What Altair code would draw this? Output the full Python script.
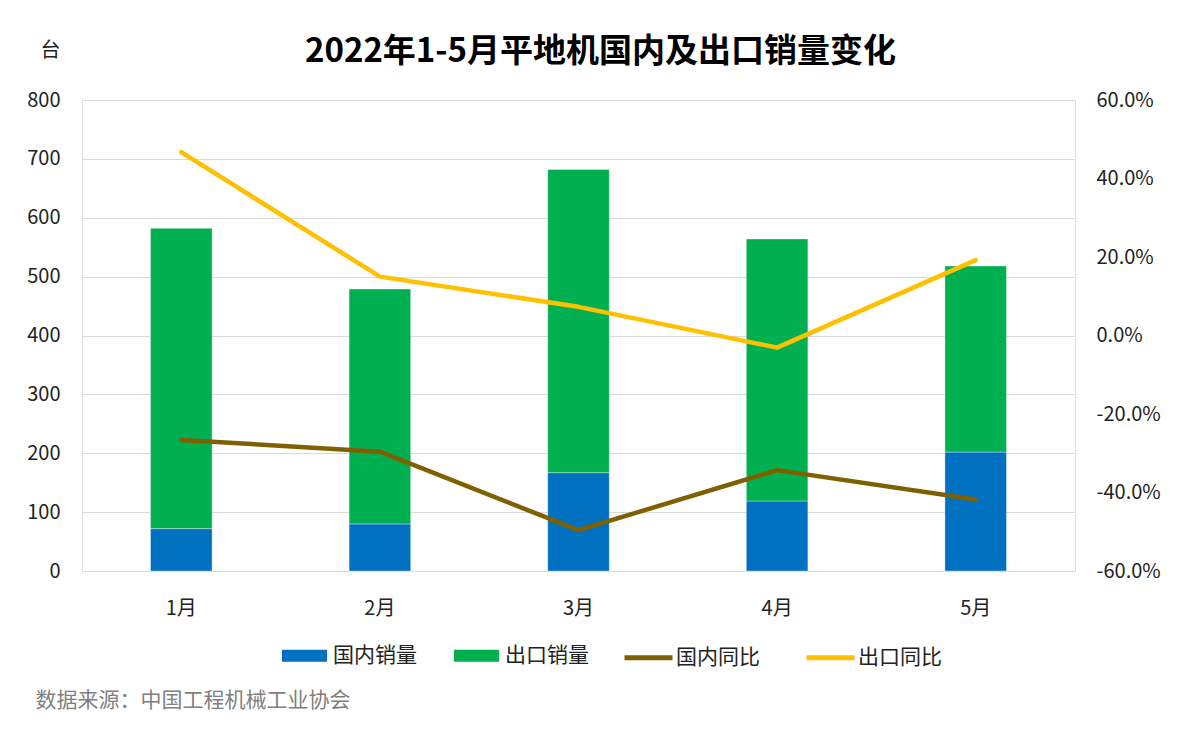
import altair as alt
import pandas as pd

months = ["1月", "2月", "3月", "4月", "5月"]
domestic_sales = [72, 80, 167, 119, 202]
export_sales = [510, 399, 515, 445, 316]
domestic_yoy = [-0.266, -0.296, -0.496, -0.343, -0.418]
export_yoy = [0.467, 0.150, 0.073, -0.031, 0.192]

bar_series = ["国内销量", "出口销量"]
line_series = ["国内同比", "出口同比"]
left_ticks = [0, 100, 200, 300, 400, 500, 600, 700, 800]
right_ticks = [-0.6, -0.4, -0.2, 0.0, 0.2, 0.4, 0.6]

FONT = "Noto Sans CJK SC"

rows = []
for i, m in enumerate(months):
    rows.append({"month": m, "series": bar_series[0], "value": domestic_sales[i], "ord": 0})
    rows.append({"month": m, "series": bar_series[1], "value": export_sales[i], "ord": 1})
df_bar = pd.DataFrame(rows)

lrows = []
for i, m in enumerate(months):
    lrows.append({"month": m, "series": line_series[0], "rate": domestic_yoy[i]})
    lrows.append({"month": m, "series": line_series[1], "rate": export_yoy[i]})
df_line = pd.DataFrame(lrows)

xscale = alt.Scale(domain=months, paddingInner=0.69, paddingOuter=0.345)

bars = alt.Chart(df_bar).mark_bar(stroke="#ffffff", strokeWidth=0.6, strokeOpacity=0.6).encode(
    x=alt.X("month:N", sort=months, scale=xscale,
            axis=alt.Axis(title="数据来源：中国工程机械工业协会", titleX=-47, titleY=129,
                          titleAlign="left", titleBaseline="middle", titleFontSize=21,
                          titleFontWeight="normal", titleColor="#7f7f7f", titleFont=FONT,
                          labelFontSize=20, labelPadding=27, labelAngle=0, labelColor="#222222",
                          labelFont=FONT, domain=False, ticks=False, grid=False)),
    y=alt.Y("value:Q", stack="zero", scale=alt.Scale(domain=[0, 800], nice=False),
            axis=alt.Axis(values=left_ticks, title="台", titleAngle=0, titleX=-32, titleY=-50,
                          titleAlign="center", titleBaseline="middle", titleFontSize=20,
                          titleFontWeight="normal", titleColor="#222222", titleFont=FONT,
                          labelFontSize=20, labelPadding=22, labelColor="#222222", labelFont=FONT,
                          domain=False, ticks=False, grid=True, gridColor="#D9D9D9", gridWidth=1)),
    color=alt.Color("series:N",
                    scale=alt.Scale(domain=bar_series, range=["#0070C0", "#00B050"]),
                    legend=alt.Legend(orient="none", legendX=200, legendY=533, direction="horizontal",
                                      title=None, symbolType="M-1,-0.27L1,-0.27L1,0.27L-1,0.27Z",
                                      symbolSize=2025, symbolStrokeWidth=0, symbolOpacity=1,
                                      labelFontSize=21, labelFont=FONT, labelColor="#222222",
                                      labelOffset=6, columnPadding=37, padding=0)),
    order=alt.Order("ord:Q", sort="ascending"),
)

lines = alt.Chart(df_line).mark_line(strokeWidth=4.5, strokeCap="round", strokeJoin="round").encode(
    x=alt.X("month:N", sort=months, scale=xscale),
    y=alt.Y("rate:Q", scale=alt.Scale(domain=[-0.6, 0.6], nice=False),
            axis=alt.Axis(orient="right", values=right_ticks, title=None,
                          labelExpr="replace(format(datum.value, '.1%'), '\u2212', '-')",
                          labelFontSize=20, labelPadding=21, labelColor="#222222", labelFont=FONT,
                          domain=False, ticks=False, grid=False)),
    stroke=alt.Stroke("series:N",
                      scale=alt.Scale(domain=line_series, range=["#7F6000", "#FFC000"]),
                      legend=alt.Legend(orient="none", legendX=540, legendY=531, direction="horizontal",
                                        title=None, symbolType="stroke", symbolSize=2304,
                                        symbolStrokeWidth=5, labelFontSize=21, labelFont=FONT,
                                        labelColor="#222222", labelOffset=1, columnPadding=36,
                                        padding=0)),
)

chart = alt.layer(bars, lines).resolve_scale(y="independent").properties(
    width=993, height=471,
    autosize=alt.AutoSizeParams(type="none"),
    padding={"left": 82, "top": 100, "right": 125, "bottom": 163},
    title=alt.TitleParams(text="2022年1-5月平地机国内及出口销量变化", font=FONT, fontSize=33,
                          fontWeight="bold", color="#000000", anchor="middle", baseline="middle",
                          offset=-45, dx=22),
).configure_view(stroke=None).configure(background="#ffffff")

chart.save("out.html", embed_options={"renderer": "svg", "actions": False})
